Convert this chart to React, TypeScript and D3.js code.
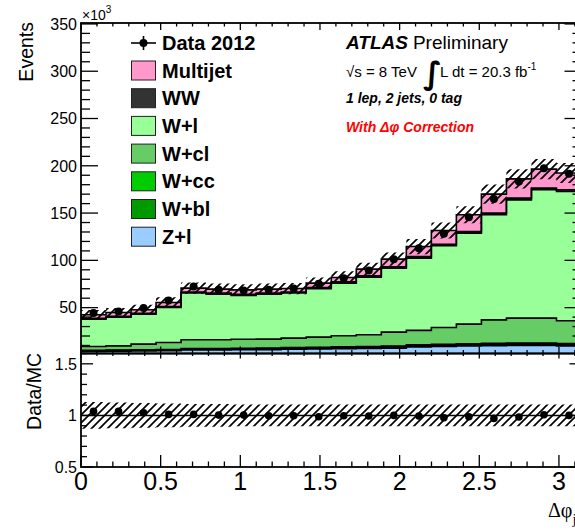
import React from 'react';
import * as d3 from 'd3';

// ---- data (x10^3 events per bin, 20 bins over 0..pi) ----
const nBins = 20;
const zlValues = [3.8, 4.0, 4.2, 4.4, 5.2, 5.3, 5.4, 5.5, 6.0, 6.3, 6.6, 6.9, 7.2, 8.5, 9.0, 9.5, 9.8, 10.0, 10.0, 9.6];
const wblValues = [0.6, 0.6, 0.7, 0.7, 0.8, 0.8, 0.8, 0.9, 0.9, 0.9, 1.0, 1.0, 1.1, 1.1, 1.2, 1.2, 1.3, 1.3, 1.3, 1.2];
const wccValues = [0.5, 0.5, 0.6, 0.6, 0.7, 0.7, 0.7, 0.8, 0.8, 0.8, 0.9, 0.9, 1.0, 1.0, 1.1, 1.1, 1.2, 1.2, 1.2, 1.1];
const wclValues = [4.0, 4.5, 5.9, 7.4, 9.3, 9.2, 9.6, 9.5, 10.1, 10.8, 11.7, 12.5, 14.8, 15.4, 17.7, 20.8, 24.8, 26.4, 26.4, 24.2];
const wlValues = [29.0, 30.4, 31.7, 37.0, 49.4, 48.3, 46.3, 47.6, 47.6, 51.1, 55.7, 61.0, 67.7, 76.4, 86.4, 96.2, 111.1, 125.1, 135.7, 136.7];
const wwValues = [0.8, 0.8, 0.9, 1.0, 1.2, 1.2, 1.2, 1.2, 1.2, 1.3, 1.3, 1.4, 1.4, 1.5, 1.6, 1.6, 1.7, 1.8, 1.8, 1.8];
const multijetValues = [3.7, 4.0, 3.7, 4.3, 4.0, 4.1, 4.8, 4.1, 3.6, 4.7, 4.7, 7.0, 8.1, 10.7, 14.6, 17.8, 20.1, 20.4, 20.1, 17.7];
const dataValues = [44.2, 45.9, 49.5, 57.5, 72.3, 68.8, 68.1, 68.8, 70.2, 75.2, 81.2, 89.3, 101.3, 112.9, 128.1, 145.7, 164.8, 183.4, 197.5, 191.5];
const ratioValues = [1.039, 1.039, 1.026, 1.01, 1.01, 1.003, 1.003, 0.997, 0.997, 0.987, 0.997, 0.994, 1.0, 0.994, 0.977, 0.987, 0.971, 0.984, 1.006, 1.0];
const mcRelErr = [0.12, 0.11, 0.11, 0.1, 0.085, 0.085, 0.085, 0.085, 0.085, 0.08, 0.08, 0.075, 0.07, 0.07, 0.065, 0.06, 0.06, 0.055, 0.055, 0.055];
const ratioErr = [0.13, 0.125, 0.12, 0.115, 0.11, 0.11, 0.105, 0.105, 0.105, 0.105, 0.105, 0.105, 0.105, 0.105, 0.105, 0.105, 0.105, 0.105, 0.105, 0.105];

const xTickLabels = ['0', '0.5', '1', '1.5', '2', '2.5', '3'];
const yTickLabels = ['50', '100', '150', '200', '250', '300', '350'];
const ratioTickLabels = ['0.5', '1', '1.5'];

const legendItems = [
  { name: 'Multijet', color: '#ff99cc' },
  { name: 'WW', color: '#333333' },
  { name: 'W+l', color: '#99ff99' },
  { name: 'W+cl', color: '#66cc66' },
  { name: 'W+cc', color: '#00cc00' },
  { name: 'W+bl', color: '#009900' },
  { name: 'Z+l', color: '#99ccff' },
];
const stackKeys = ['zl', 'wbl', 'wcc', 'wcl', 'wl', 'ww', 'mj'];
const stackColors: Record<string, string> = {
  zl: '#99ccff', wbl: '#009900', wcc: '#00cc00', wcl: '#66cc66', wl: '#99ff99', ww: '#333333', mj: '#ff99cc',
};

const SANS = '"Liberation Sans", Arial, Helvetica, sans-serif';

export default function App() {
  const X0 = 81, X1 = 581.5;
  const MT = 23, MB = 353.5, RB = 467;
  const x = d3.scaleLinear().domain([0, Math.PI]).range([X0, X1]);
  const yM = d3.scaleLinear().domain([1.5, 351]).range([MB, MT]);
  const yR = d3.scaleLinear().domain([0.5, 1.6]).range([RB, MB]);
  const edges = d3.range(nBins + 1).map((i) => (i * Math.PI) / nBins);
  const centers = d3.range(nBins).map((i) => ((i + 0.5) * Math.PI) / nBins);

  const rows = d3.range(nBins).map((i) => ({
    zl: zlValues[i], wbl: wblValues[i], wcc: wccValues[i], wcl: wclValues[i],
    wl: wlValues[i], ww: wwValues[i], mj: multijetValues[i],
  }));
  const series = d3.stack<any>().keys(stackKeys)(rows);

  type P = { x: number; lo: number; hi: number };
  const stepPts = (lo: number[], hi: number[]): P[] => {
    const pts: P[] = [];
    for (let i = 0; i < nBins; i++) {
      pts.push({ x: edges[i], lo: lo[i], hi: hi[i] });
      pts.push({ x: edges[i + 1], lo: lo[i], hi: hi[i] });
    }
    return pts;
  };
  const areaM = d3.area<P>().x((d) => x(d.x)).y0((d) => yM(d.lo)).y1((d) => yM(d.hi));
  const lineM = d3.line<P>().x((d) => x(d.x)).y((d) => yM(d.hi));
  const areaR = d3.area<P>().x((d) => x(d.x)).y0((d) => yR(d.lo)).y1((d) => yR(d.hi));

  const total = series[series.length - 1].map((d) => d[1]);
  const bandM = stepPts(total.map((t, i) => t * (1 - mcRelErr[i])), total.map((t, i) => t * (1 + mcRelErr[i])));
  const bandR = stepPts(ratioErr.map((e) => 1 - e), ratioErr.map((e) => 1 + e));

  const mainMinor = d3.range(1, 36).map((i) => i * 10);
  const xMinor = d3.range(0, 32).map((i) => i / 10);
  const rMinor = d3.range(5, 17).map((i) => i / 10);

  return (
    <svg width={575} height={530} style={{ position: 'absolute', left: 0, top: 0, background: '#fff' }} fontFamily={SANS}>
      <defs>
        <clipPath id="clipM"><rect x={X0} y={MT} width={X1 - X0} height={MB - MT} /></clipPath>
        <clipPath id="clipR"><rect x={X0} y={MB} width={X1 - X0} height={RB - MB} /></clipPath>
        <pattern id="hatch" patternUnits="userSpaceOnUse" width={8} height={8}>
          <path d="M-2,2 L2,-2 M0,8 L8,0 M6,10 L10,6" stroke="#000" strokeWidth={1.7} />
        </pattern>
      </defs>
      <rect x={0} y={0} width={575} height={530} fill="#fff" />

      {/* main stack */}
      <g clipPath="url(#clipM)">
        {series.map((s) => (
          <path key={s.key} d={areaM(stepPts(s.map((d) => d[0]), s.map((d) => d[1])))!} fill={stackColors[s.key]} stroke="none" />
        ))}
        {series.map((s) => (
          <path key={'l' + s.key} d={lineM(stepPts(s.map((d) => d[0]), s.map((d) => d[1])))!} fill="none" stroke="#000" strokeWidth={1.6} />
        ))}
        <path d={areaM(bandM)!} fill="url(#hatch)" stroke="none" />
        {centers.map((c, i) => (
          <circle key={i} cx={x(c)} cy={yM(dataValues[i])} r={4} fill="#000" />
        ))}
      </g>

      {/* ratio */}
      <g clipPath="url(#clipR)">
        <path d={areaR(bandR)!} fill="url(#hatch)" stroke="none" />
        <line x1={X0} x2={X1} y1={yR(1)} y2={yR(1)} stroke="#000" strokeWidth={1.5} />
        {centers.map((c, i) => (
          <circle key={i} cx={x(c)} cy={yR(ratioValues[i])} r={3.8} fill="#000" />
        ))}
      </g>

      {/* frames */}
      <rect x={X0} y={MT} width={X1 - X0} height={MB - MT} fill="none" stroke="#000" strokeWidth={1.8} />
      <rect x={X0} y={MB} width={X1 - X0} height={RB - MB} fill="none" stroke="#000" strokeWidth={1.8} />

      {/* main y ticks */}
      {mainMinor.map((v) => {
        const major = v % 50 === 0;
        const len = major ? 17 : 9;
        return (
          <g key={'my' + v}>
            <line x1={X0} x2={X0 + len} y1={yM(v)} y2={yM(v)} stroke="#000" strokeWidth={1.3} />
            <line x1={X1} x2={X1 - len} y1={yM(v)} y2={yM(v)} stroke="#000" strokeWidth={1.3} />
          </g>
        );
      })}
      {yTickLabels.map((t) => (
        <text key={'yl' + t} x={77} y={yM(+t)} dy="0.36em" textAnchor="end" fontSize={16}>{t}</text>
      ))}
      <text x={82} y={20} fontSize={14}>×10<tspan dy={-7} fontSize={10}>3</tspan></text>

      {/* x ticks */}
      {xMinor.map((v, i) => {
        const major = i % 5 === 0;
        const xp = x(v);
        return (
          <g key={'xt' + i}>
            <line x1={xp} x2={xp} y1={MT} y2={MT + (major ? 7 : 3.5)} stroke="#000" strokeWidth={1.3} />
            <line x1={xp} x2={xp} y1={MB} y2={MB - (major ? 7 : 3.5)} stroke="#000" strokeWidth={1.3} />
            <line x1={xp} x2={xp} y1={MB} y2={MB + (major ? 5 : 2.5)} stroke="#000" strokeWidth={1.3} />
            <line x1={xp} x2={xp} y1={RB} y2={RB - (major ? 12 : 5.5)} stroke="#000" strokeWidth={1.3} />
          </g>
        );
      })}
      {xTickLabels.map((t) => (
        <text key={'xl' + t} x={x(+t)} y={490} textAnchor="middle" fontSize={25}>{t}</text>
      ))}

      {/* ratio y ticks */}
      {rMinor.map((v, i) => {
        const major = Math.abs(v * 2 - Math.round(v * 2)) < 1e-6;
        const len = major ? 12 : 6;
        return (
          <g key={'ry' + i}>
            <line x1={X0} x2={X0 + len} y1={yR(v)} y2={yR(v)} stroke="#000" strokeWidth={1.3} />
            <line x1={X1} x2={X1 - len} y1={yR(v)} y2={yR(v)} stroke="#000" strokeWidth={1.3} />
          </g>
        );
      })}
      {ratioTickLabels.map((t) => (
        <text key={'rl' + t} x={77} y={yR(+t)} dy="0.36em" textAnchor="end" fontSize={16}>{t}</text>
      ))}

      {/* axis titles */}
      <text transform="translate(33,22) rotate(-90)" textAnchor="end" fontSize={19.5}>Events</text>
      <text transform="translate(41,353) rotate(-90)" textAnchor="end" fontSize={19.5}>Data/MC</text>
      <text x={548} y={516.5} fontSize={20} fontFamily='"Liberation Serif", "DejaVu Serif", serif'>Δφ<tspan dy={7} fontSize={14}>jj</tspan></text>

      {/* legend */}
      <g>
        <line x1={131} x2={156} y1={43} y2={43} stroke="#000" strokeWidth={1.6} />
        <line x1={143.5} x2={143.5} y1={36} y2={50} stroke="#000" strokeWidth={1.6} />
        <circle cx={143.5} cy={43} r={4} fill="#000" />
        <text x={162} y={50} fontSize={20} fontWeight="bold">Data 2012</text>
        {legendItems.map((it, i) => {
          const cy = 70.5 + i * 27.7;
          return (
            <g key={it.name}>
              <rect x={131.5} y={cy - 9.5} width={24} height={19} fill={it.color} stroke="#222" strokeWidth={1} />
              <text x={162} y={cy + 7} fontSize={20} fontWeight="bold">{it.name}</text>
            </g>
          );
        })}
      </g>

      {/* ATLAS label */}
      <text x={346} y={48.5} fontSize={19}>
        <tspan fontWeight="bold" fontStyle="italic">ATLAS</tspan>
        <tspan dx={5}>Preliminary</tspan>
      </text>
      <text x={346} y={77} fontSize={15}>√s = 8 TeV</text>
      <text x={423} y={84} fontSize={31} fontWeight="bold" fontFamily='"DejaVu Sans", sans-serif'>∫</text>
      <text x={440} y={77} fontSize={15}>L dt = 20.3 fb<tspan dy={-7} fontSize={10}>-1</tspan></text>
      <text x={346} y={103} fontSize={14} fontWeight="bold" fontStyle="italic">1 lep, 2 jets, 0 tag</text>
      <text x={346} y={131.5} fontSize={14} fontWeight="bold" fontStyle="italic" fill="#ff0000">With Δφ Correction</text>
    </svg>
  );
}
